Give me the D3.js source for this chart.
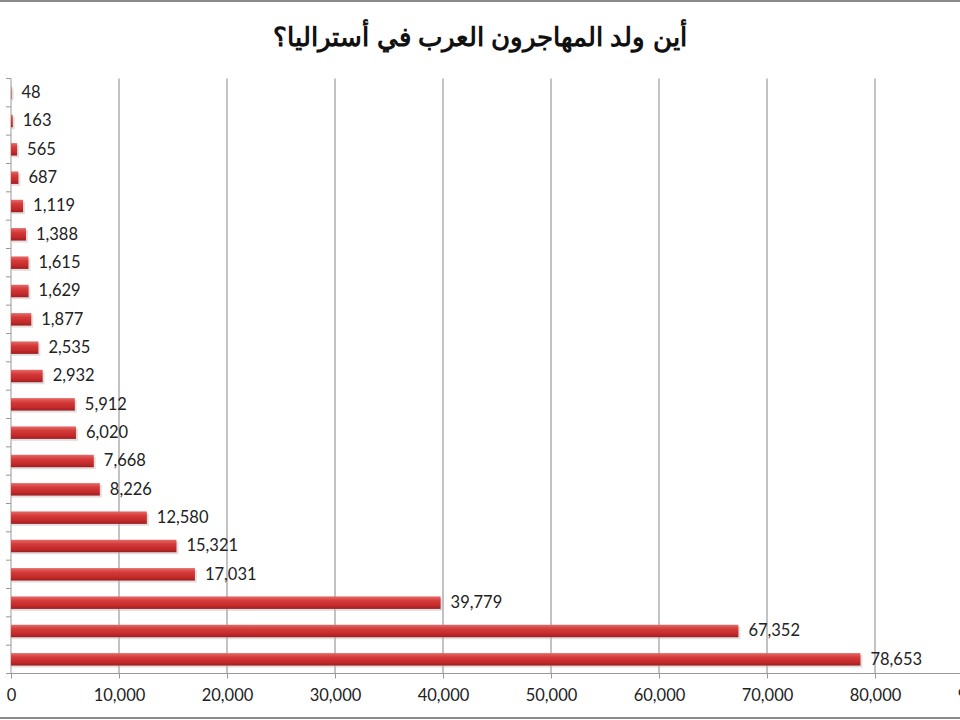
<!DOCTYPE html>
<html><head><meta charset="utf-8">
<script src="https://cdn.jsdelivr.net/npm/d3@7"></script>
<style>body{margin:0;background:#fff}svg{display:block}</style>
</head><body>
<svg id="c" width="960" height="720"></svg>
<script>
const title = "أين ولد المهاجرون العرب في أستراليا؟";
const categories = ["جزر القمر","جيبوتي","موريتانيا","ليبيا","البحرين","قطر","عمان","اليمن","الجزائر","المغرب","تونس","الإمارات","الصومال","السعودية","الكويت","الأردن","سوريا","السودان","مصر","العراق","لبنان"];
const values = [48,163,565,687,1119,1388,1615,1629,1877,2535,2932,5912,6020,7668,8226,12580,15321,17031,39779,67352,78653];
const xTicks = [0,10000,20000,30000,40000,50000,60000,70000,80000,90000];

const svg = d3.select("#c");
const defs = svg.append("defs");
const g1 = defs.append("linearGradient").attr("id","barG").attr("x1",0).attr("y1",0).attr("x2",0).attr("y2",1);
g1.append("stop").attr("offset","0%").attr("stop-color","#e46a68");
g1.append("stop").attr("offset","35%").attr("stop-color","#d43a38");
g1.append("stop").attr("offset","75%").attr("stop-color","#c2292a");
g1.append("stop").attr("offset","100%").attr("stop-color","#9e1e1f");

// frame lines
svg.append("line").attr("x1",0).attr("x2",960).attr("y1",1).attr("y2",1).attr("stroke","#8a8a8a").attr("stroke-width",2);
svg.append("line").attr("x1",0).attr("x2",960).attr("y1",718).attr("y2",718).attr("stroke","#8a8a8a").attr("stroke-width",2);

svg.append("text").attr("x",480).attr("y",46).attr("text-anchor","middle")
  .attr("font-family","'Liberation Sans', Arial, sans-serif").attr("font-weight","bold")
  .attr("font-size",26).attr("direction","rtl").attr("fill","#111").text(title);

const x = d3.scaleLinear().domain([0,90000]).range([11,983]);
const y = d3.scaleBand().domain(categories).range([78.5,673.5]).paddingInner(0.56).paddingOuter(0.28);
const yb = d3.scaleBand().domain(categories).range([78.5,673.5]);

// gridlines
svg.append("g").selectAll("line").data(xTicks.slice(1)).join("line")
  .attr("x1",d=>x(d)).attr("x2",d=>x(d)).attr("y1",78.5).attr("y2",673.5)
  .attr("stroke","#9a9a9a").attr("stroke-width",1.2);

// x axis
const xa = svg.append("g").attr("transform","translate(0,673.5)")
  .call(d3.axisBottom(x).tickValues(xTicks).tickFormat(d3.format(",")).tickSize(5).tickPadding(11));
xa.select(".domain").attr("stroke","#999").attr("d","M11,0H960");
xa.selectAll(".tick line").attr("stroke","#999");
xa.selectAll("text").attr("font-family","Lato, 'Open Sans', sans-serif").attr("font-size",16.5).attr("fill","#222");

// y axis
const ya = svg.append("g").attr("transform","translate(11,0)")
  .call(d3.axisLeft(yb).tickSize(0).tickFormat(""));
ya.select(".domain").attr("stroke","#999").attr("d","M0,78.5V673.5");
ya.append("g").selectAll("line").data(d3.range(categories.length+1)).join("line")
  .attr("x1",-5).attr("x2",0)
  .attr("y1",i=>78.5+i*yb.step()).attr("y2",i=>78.5+i*yb.step()).attr("stroke","#999");

// bars
const bars = svg.append("g");
bars.selectAll("rect.sh").data(values).join("rect").attr("class","sh")
  .attr("x",x(0)+1).attr("y",(d,i)=>y(categories[i])+2)
  .attr("width",d=>Math.max(0,x(d)-x(0))+1).attr("height",y.bandwidth())
  .attr("fill","#bbb").attr("opacity",0.45);
bars.selectAll("rect.b").data(values).join("rect").attr("class","b")
  .attr("x",x(0)).attr("y",(d,i)=>y(categories[i]))
  .attr("width",d=>x(d)-x(0)).attr("height",y.bandwidth())
  .attr("fill","url(#barG)");

// labels
svg.append("g").selectAll("text").data(values).join("text")
  .attr("x",d=>x(d)+10).attr("y",(d,i)=>yb(categories[i])+yb.bandwidth()/2+1)
  .attr("dominant-baseline","middle")
  .attr("font-family","Lato, 'Open Sans', sans-serif").attr("font-size",16.5).attr("fill","#222")
  .text(d=>d3.format(",")(d));
</script>
</body></html>
